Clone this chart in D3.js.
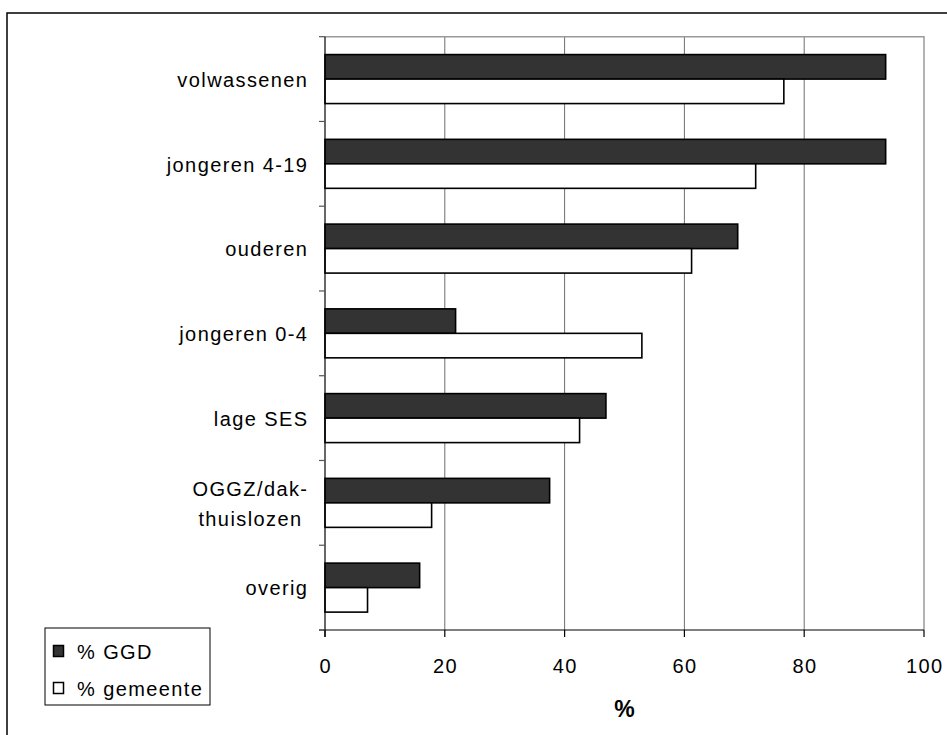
<!DOCTYPE html>
<html>
<head>
<meta charset="utf-8">
<script src="https://cdn.jsdelivr.net/npm/d3@7"></script>
<style>
  html, body { margin: 0; padding: 0; background: #fff; }
  svg text { font-family: "Liberation Sans", Arial, sans-serif; fill: #000; }
</style>
</head>
<body>
<svg id="chart" width="947" height="735"></svg>
<script>
const categories = ["volwassenen", "jongeren 4-19", "ouderen", "jongeren 0-4", "lage SES", "OGGZ/dak-\nthuislozen", "overig"];
const seriesNames = ["% GGD", "% gemeente"];
const ggd = [93.6, 93.6, 68.9, 21.8, 46.9, 37.5, 15.8];
const gemeente = [76.6, 71.9, 61.2, 52.9, 42.5, 17.8, 7.1];
const xTicks = [0, 20, 40, 60, 80, 100];
const xTitle = "%";

(function () {
const svg = d3.select("#chart");
const fontSize = 20, ls = 1.4;

// outer frame (extends off canvas right/bottom)
svg.append("rect").attr("x", 7).attr("y", 13).attr("width", 1100).attr("height", 1100)
  .attr("fill", "none").attr("stroke", "#000").attr("stroke-width", 1.5);

const pLeft = 325, pRight = 924, pTop = 36.7, pBottom = 630;
const x = d3.scaleLinear().domain([0, 100]).range([pLeft, pRight]);
const y = d3.scaleBand().domain(categories).range([pTop, pBottom]).padding(0);
const bw = y.bandwidth();
const barH = bw * 0.289;
const padTop = (bw - 2 * barH) / 2;

// gridlines
svg.append("g").selectAll("line").data(xTicks.filter(d => d > 0 && d < 100)).join("line")
  .attr("x1", d => x(d)).attr("x2", d => x(d)).attr("y1", pTop).attr("y2", pBottom)
  .attr("stroke", "#6e6e6e").attr("stroke-width", 1);

// plot border top & right
svg.append("path").attr("d", `M${pLeft},${pTop}H${pRight}V${pBottom}`)
  .attr("fill", "none").attr("stroke", "#9a9a9a").attr("stroke-width", 1.5);

// bars
const series = [
  { name: seriesNames[0], values: ggd, fill: "#333333" },
  { name: seriesNames[1], values: gemeente, fill: "#ffffff" }
];
series.forEach((s, si) => {
  svg.append("g").selectAll("rect").data(categories).join("rect")
    .attr("x", x(0))
    .attr("y", (c) => y(c) + padTop + si * barH)
    .attr("width", (c, i) => x(s.values[i]) - x(0))
    .attr("height", barH)
    .attr("fill", s.fill).attr("stroke", "#000").attr("stroke-width", 1.6);
});

// axes lines
svg.append("line").attr("x1", pLeft).attr("x2", pLeft).attr("y1", pTop).attr("y2", pBottom + 7)
  .attr("stroke", "#000").attr("stroke-width", 1.2);
svg.append("line").attr("x1", pLeft - 6).attr("x2", pRight).attr("y1", pBottom).attr("y2", pBottom)
  .attr("stroke", "#000").attr("stroke-width", 1.2);

// y ticks at band boundaries
const bounds = categories.map(c => y(c)).concat([pBottom]);
svg.append("g").selectAll("line").data(bounds).join("line")
  .attr("x1", pLeft - 6).attr("x2", pLeft).attr("y1", d => d).attr("y2", d => d)
  .attr("stroke", "#555").attr("stroke-width", 1.2);

// x ticks
svg.append("g").selectAll("line").data(xTicks).join("line")
  .attr("x1", d => x(d)).attr("x2", d => x(d)).attr("y1", pBottom).attr("y2", pBottom + 7)
  .attr("stroke", "#000").attr("stroke-width", 1.2);

svg.append("g").selectAll("text").data(xTicks).join("text")
  .attr("x", d => x(d) + ls / 2).attr("y", 672.5)
  .attr("text-anchor", "middle")
  .style("font-size", fontSize + "px").style("letter-spacing", ls + "px")
  .text(d => d);

svg.append("text").attr("x", (pLeft + pRight) / 2).attr("y", 716.5)
  .attr("text-anchor", "middle").style("font-size", "23px").style("font-weight", "bold")
  .text(xTitle);

// y category labels
const labelRight = 307;
categories.forEach(c => {
  const lines = c.split("\n");
  const cy = y(c) + bw / 2;
  const g = svg.append("g");
  const texts = lines.map((ln, i) => g.append("text")
    .attr("y", cy + 7.8 - (lines.length - 1) * 15 + i * 30)
    .style("font-size", fontSize + "px").style("letter-spacing", ls + "px")
    .attr("text-anchor", "middle")
    .text(ln));
  const widths = texts.map(t => t.node().getComputedTextLength() - ls);
  const maxW = d3.max(widths);
  texts.forEach(t => t.attr("x", labelRight - maxW / 2 + ls / 2));
});

// legend
const lg = svg.append("g");
lg.append("rect").attr("x", 45).attr("y", 628).attr("width", 165).attr("height", 77)
  .attr("fill", "#fff").attr("stroke", "#000").attr("stroke-width", 1);
series.forEach((s, i) => {
  const cy = 651 + i * 37;
  lg.append("rect").attr("x", 53.5).attr("y", cy - 5.5).attr("width", 10).attr("height", 11)
    .attr("fill", s.fill).attr("stroke", "#000").attr("stroke-width", 1.5);
  lg.append("text").attr("x", 77).attr("y", cy + 7.5)
    .style("font-size", fontSize + "px").style("letter-spacing", ls + "px")
    .text(s.name);
});
})();
</script>
</body>
</html>
